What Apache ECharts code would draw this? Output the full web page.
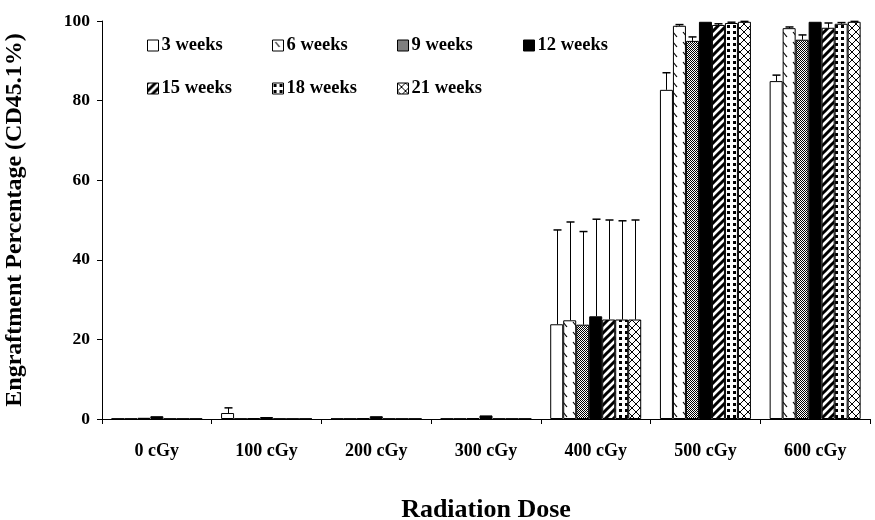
<!DOCTYPE html>
<html>
<head>
<meta charset="utf-8">
<script src="https://cdn.jsdelivr.net/npm/echarts@6/dist/echarts.min.js"></script>
<style>
  html, body { margin: 0; padding: 0; background: #fff; }
  #chart { width: 875px; height: 520px; }
</style>
</head>
<body>
<div id="chart"></div>
<script>
// ---- data ----
const categories = ['0 cGy', '100 cGy', '200 cGy', '300 cGy', '400 cGy', '500 cGy', '600 cGy'];
const seriesNames = ['3 weeks', '6 weeks', '9 weeks', '12 weeks', '15 weeks', '18 weeks', '21 weeks'];
const yTicks = [0, 20, 40, 60, 80, 100];

const w3  = [0.1, 1.5, 0.1, 0.1, 23.8, 82.7, 84.9];
const w6  = [0.1, 0.1, 0.1, 0.1, 24.8, 98.8, 98.2];
const w9  = [0.3, 0.2, 0.2, 0.2, 23.7, 95.0, 95.3];
const w12 = [0.7, 0.5, 0.7, 0.9, 25.8, 99.8, 99.8];
const w15 = [0.1, 0.1, 0.1, 0.1, 25.0, 99.0, 98.3];
const w18 = [0.1, 0.1, 0.1, 0.1, 25.0, 99.5, 99.3];
const w21 = [0.1, 0.1, 0.1, 0.1, 25.0, 99.8, 99.8];

// error (upper) amounts
const e3  = [0, 1.3, 0, 0, 23.7, 4.3, 1.5];
const e6  = [0, 0, 0, 0, 24.7, 0.3, 0.3];
const e9  = [0, 0, 0, 0, 23.4, 1.0, 1.2];
const e12 = [0, 0, 0, 0, 24.4, 0, 0];
const e15 = [0, 0, 0, 0, 25.0, 0.3, 1.2];
const e18 = [0, 0, 0, 0, 24.8, 0.2, 0.3];
const e21 = [0, 0, 0, 0, 25.0, 0.1, 0.1];

const values = [w3, w6, w9, w12, w15, w18, w21];
const errors = [e3, e6, e9, e12, e15, e18, e21];

// ---- styles ----
const FONT = '"Liberation Serif", "Times New Roman", serif';
const BAR_W = 13;

function pattern(w, h, draw) {
  const c = document.createElement('canvas');
  c.width = w; c.height = h;
  const ctx = c.getContext('2d');
  ctx.fillStyle = '#fff';
  ctx.fillRect(0, 0, w, h);
  ctx.fillStyle = '#000';
  ctx.strokeStyle = '#000';
  draw(ctx);
  return { image: c, repeat: 'repeat' };
}

const fills = [
  '#ffffff',
  pattern(10, 10, ctx => { ctx.lineWidth = 1.2; ctx.beginPath(); ctx.moveTo(3, 2); ctx.lineTo(7, 7); ctx.stroke(); }),
  pattern(2, 2, ctx => { ctx.fillRect(0, 0, 1, 1); ctx.fillRect(1, 1, 1, 1); }),
  '#000000',
  pattern(8, 8, ctx => {
    ctx.lineWidth = 3;
    ctx.beginPath();
    ctx.moveTo(-2, 10); ctx.lineTo(10, -2);
    ctx.moveTo(-6, 6); ctx.lineTo(6, -6);
    ctx.moveTo(2, 14); ctx.lineTo(14, 2);
    ctx.stroke();
  }),
  pattern(6, 6, ctx => { ctx.fillRect(1, 1, 3, 3); }),
  pattern(8, 8, ctx => {
    ctx.lineWidth = 1;
    ctx.beginPath();
    ctx.moveTo(0, 0); ctx.lineTo(8, 8);
    ctx.moveTo(8, 0); ctx.lineTo(0, 8);
    ctx.stroke();
  })
];

const barSeries = seriesNames.map((name, k) => ({
  name: name,
  type: 'bar',
  barWidth: BAR_W,
  barGap: '0%',
  data: values[k],
  itemStyle: { color: fills[k], borderColor: '#000', borderWidth: 1 },
  emphasis: { disabled: true },
  z: 2
}));

const errData = [];
values.forEach((arr, k) => {
  arr.forEach((v, i) => {
    if (errors[k][i] > 0) errData.push([i, k, v, errors[k][i]]);
  });
});

const errSeries = {
  name: 'err',
  type: 'custom',
  data: errData,
  z: 5,
  silent: true,
  encode: { x: 0, y: 2 },
  renderItem: function (params, api) {
    const cat = api.value(0), k = api.value(1), v = api.value(2), e = api.value(3);
    const b = api.coord([cat, v]);
    const t = api.coord([cat, v + e]);
    const x = Math.round(b[0] + (k - 3) * BAR_W) + 0.5;
    return {
      type: 'group',
      children: [
        { type: 'line', shape: { x1: x, y1: b[1], x2: x, y2: t[1] }, style: { stroke: '#000', lineWidth: 1 } },
        { type: 'line', shape: { x1: x - 4, y1: t[1], x2: x + 4, y2: t[1] }, style: { stroke: '#000', lineWidth: 1.5 } }
      ]
    };
  }
};

const legendPos = [[147, 36], [272, 36], [397, 36], [523, 36], [147, 79], [272, 79], [397, 79]];
const legends = seriesNames.map((name, k) => ({
  data: [name],
  left: legendPos[k][0],
  top: legendPos[k][1],
  icon: 'rect',
  itemWidth: 11,
  itemHeight: 11,
  itemGap: 0,
  padding: 0,
  selectedMode: false,
  itemStyle: { borderColor: '#000', borderWidth: 1 },
  textStyle: { fontFamily: FONT, fontWeight: 'bold', fontSize: 18.5, color: '#000', padding: [0, 0, 0, -2] }
}));

const chart = echarts.init(document.getElementById('chart'), null, { renderer: 'canvas' });
chart.setOption({
  animation: false,
  backgroundColor: '#fff',
  legend: legends,
  grid: { left: 102, right: 5, top: 21, bottom: 101, containLabel: false, outerBoundsMode: 'none' },
  xAxis: {
    type: 'category',
    data: categories,
    axisLine: { lineStyle: { color: '#000', width: 1 } },
    axisTick: { show: true, length: 5, lineStyle: { color: '#000' } },
    axisLabel: { fontFamily: FONT, fontWeight: 'bold', fontSize: 18, color: '#000', margin: 23 },
    name: 'Radiation Dose',
    nameLocation: 'middle',
    nameGap: 78,
    nameTextStyle: { fontFamily: FONT, fontWeight: 'bold', fontSize: 26, color: '#000' }
  },
  yAxis: {
    type: 'value',
    min: yTicks[0],
    max: yTicks[yTicks.length - 1],
    interval: yTicks[1] - yTicks[0],
    splitLine: { show: false },
    axisLine: { show: true, lineStyle: { color: '#000', width: 1 } },
    axisTick: { show: true, length: 5, lineStyle: { color: '#000' } },
    axisLabel: { fontFamily: FONT, fontWeight: 'bold', fontSize: 17.5, color: '#000', margin: 12 },
    name: 'Engraftment Percentage (CD45.1%)',
    nameLocation: 'middle',
    nameGap: 75,
    nameTextStyle: { fontFamily: FONT, fontWeight: 'bold', fontSize: 24, color: '#000' }
  },
  series: barSeries.concat([errSeries])
});
</script>
</body>
</html>
